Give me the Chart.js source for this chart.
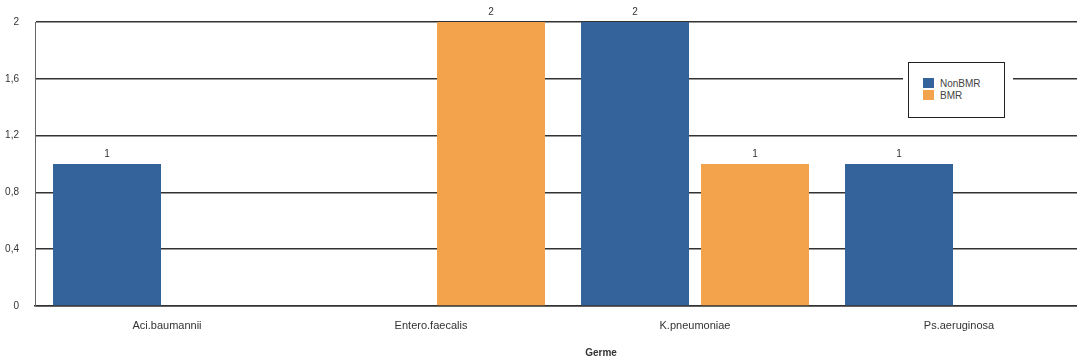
<!DOCTYPE html>
<html>
<head>
<meta charset="utf-8">
<script src="https://cdn.jsdelivr.net/npm/chart.js@4/dist/chart.umd.min.js"></script>
<style>
  html, body { margin: 0; padding: 0; background: #fff; overflow: hidden; }
  #wrap { position: relative; width: 1092px; height: 360px; }
  #legend {
    position: absolute; left: 903px; top: 57px; width: 110px; height: 67px;
    background: #fff;
  }
  #legend .box {
    position: absolute; left: 5px; top: 5px; width: 97px; height: 56px;
    border: 1px solid #222; box-sizing: border-box;
    font: 10px "Liberation Sans", Arial, sans-serif; color: #444;
    padding-top: 15px; padding-left: 14px;
  }
  #legend .item { height: 11.5px; line-height: 11px; white-space: nowrap; }
  #legend .sw { display: inline-block; width: 11px; height: 10px; vertical-align: top; margin-right: 6px; }
</style>
</head>
<body>
<div id="wrap">
  <canvas id="bar-chart" width="1092" height="360"></canvas>
  <div id="legend"><div class="box"></div></div>
</div>
<script>
// data
const categories = ['Aci.baumannii', 'Entero.faecalis', 'K.pneumoniae', 'Ps.aeruginosa'];
const seriesNames = ['NonBMR', 'BMR'];
const nonBmrValues = [1, 0, 2, 1];
const bmrValues = [0, 2, 1, 0];
const yTickLabels = ['0', '0,4', '0,8', '1,2', '1,6', '2'];
const xTitle = 'Germe';

const colors = ['#34639b', '#f2a34b'];
const font = 'Liberation Sans, Arial, sans-serif';

// value labels above the bars
const valueLabels = {
    id: 'valueLabels',
    afterDatasetsDraw(chart) {
        const ctx = chart.ctx;
        ctx.save();
        ctx.font = '10px ' + font;
        ctx.fillStyle = '#333';
        ctx.textAlign = 'center';
        ctx.textBaseline = 'bottom';
        chart.data.datasets.forEach((ds, i) => {
            chart.getDatasetMeta(i).data.forEach((bar, j) => {
                if (ds.data[j] > 0) ctx.fillText(String(ds.data[j]), bar.x, bar.y - 5);
            });
        });
        ctx.restore();
    }
};

// axis title sits off-centre in the original
const axisTitle = {
    id: 'axisTitle',
    afterDraw(chart) {
        const ctx = chart.ctx;
        ctx.save();
        ctx.font = 'bold 10px ' + font;
        ctx.fillStyle = '#333';
        ctx.textAlign = 'center';
        ctx.textBaseline = 'middle';
        ctx.fillText(xTitle, 601, 353);
        ctx.restore();
    }
};

const chart = new Chart(document.getElementById('bar-chart'), {
    type: 'bar',
    data: {
        labels: categories,
        datasets: [
            { label: seriesNames[0], data: nonBmrValues, backgroundColor: colors[0] },
            { label: seriesNames[1], data: bmrValues, backgroundColor: colors[1] }
        ]
    },
    options: {
        responsive: false,
        animation: false,
        categoryPercentage: 0.909,
        barPercentage: 0.9,
        layout: { padding: { top: 22, right: 1, left: 0, bottom: 0 } },
        plugins: {
            legend: { display: false },
            tooltip: { enabled: false }
        },
        scales: {
            x: {
                grid: { display: false },
                border: { display: true, color: '#333', width: 1.5 },
                ticks: { color: '#333', font: { size: 11, family: font }, padding: 5 },
                afterFit(scale) { scale.height = 54; }
            },
            y: {
                min: 0,
                max: 2,
                grid: { color: '#333', lineWidth: 1.5, drawTicks: false },
                border: { display: true, color: '#666', width: 1 },
                ticks: {
                    stepSize: 0.4,
                    color: '#333',
                    font: { size: 10, family: font },
                    padding: 16,
                    callback: (v, i) => yTickLabels[i]
                },
                afterFit(scale) { scale.width = 35; }
            }
        }
    },
    plugins: [valueLabels, axisTitle]
});

// legend drawn as html, from the series names
const box = document.querySelector('#legend .box');
seriesNames.forEach((name, i) => {
    const item = document.createElement('div');
    item.className = 'item';
    item.innerHTML = '<span class="sw" style="background:' + colors[i] + '"></span>' + name;
    box.appendChild(item);
});
</script>
</body>
</html>
